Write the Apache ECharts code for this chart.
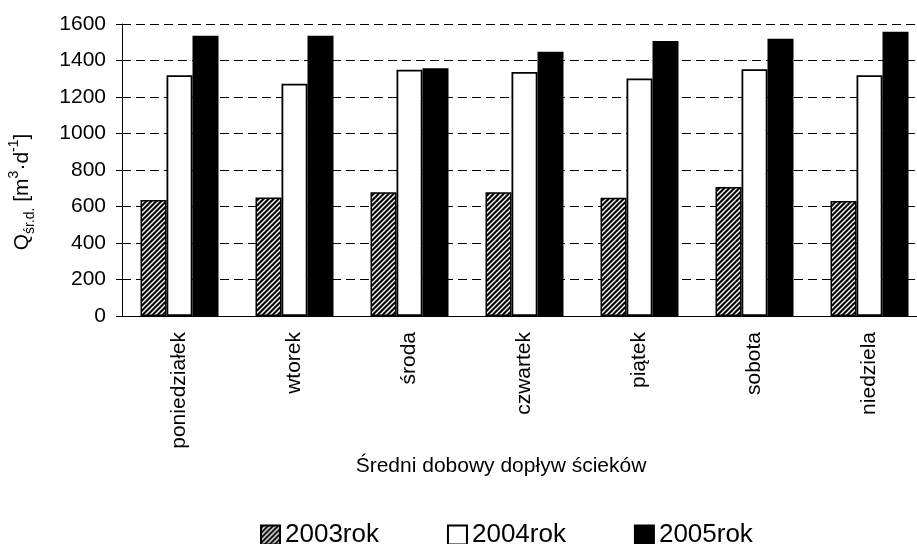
<!DOCTYPE html>
<html>
<head>
<meta charset="utf-8">
<script src="https://cdn.jsdelivr.net/npm/echarts@6/dist/echarts.min.js"></script>
<style>
html,body{margin:0;padding:0;background:#fff;}
#chart{width:917px;height:544px;}
</style>
</head>
<body>
<div id="chart"></div>
<script>
const categories = ['poniedziałek', 'wtorek', 'środa', 'czwartek', 'piątek', 'sobota', 'niedziela'];
const seriesNames = ['2003rok', '2004rok', '2005rok'];
const values2003 = [635, 650, 678, 678, 648, 707, 630];
const values2004 = [1319, 1273, 1350, 1337, 1302, 1352, 1319];
const values2005 = [1536, 1536, 1357, 1448, 1507, 1519, 1558];
const yTicks = [0, 200, 400, 600, 800, 1000, 1200, 1400, 1600];

function hatch() {
  const c = document.createElement('canvas');
  c.width = 5; c.height = 5;
  const g = c.getContext('2d');
  g.fillStyle = '#000';
  g.fillRect(0, 0, 5, 5);
  g.strokeStyle = '#fff';
  g.lineWidth = 1.4;
  g.beginPath();
  g.moveTo(-1, 6); g.lineTo(6, -1);
  g.moveTo(-1, 1); g.lineTo(1, -1);
  g.moveTo(4, 6); g.lineTo(6, 4);
  g.stroke();
  return c;
}

const FONT = '"Liberation Sans", Arial, sans-serif';
const chart = echarts.init(document.getElementById('chart'), null, {renderer: 'canvas'});
const barBase = {type: 'bar', barWidth: 26, barGap: '0%', animation: false};
chart.setOption({
  animation: false,
  textStyle: {fontFamily: FONT, color: '#000'},
  grid: {left: 122, top: 24, width: 805, height: 292, containLabel: false, outerBoundsMode: 'none'},
  xAxis: {
    type: 'category',
    data: categories,
    axisLine: {lineStyle: {color: '#000', width: 1}},
    axisTick: {length: 6, lineStyle: {color: '#000'}},
    axisLabel: {rotate: 90, fontSize: 21, color: '#000', fontFamily: FONT, margin: 16}
  },
  yAxis: {
    type: 'value',
    min: yTicks[0],
    max: yTicks[yTicks.length - 1],
    interval: yTicks[1] - yTicks[0],
    axisLine: {show: true, lineStyle: {color: '#000', width: 1}},
    axisTick: {show: true, length: 6, lineStyle: {color: '#000'}},
    axisLabel: {fontSize: 21, color: '#000', fontFamily: FONT, margin: 16, formatter: v => String(v)},
    splitLine: {show: true, lineStyle: {color: '#000', width: 1, type: [9, 5]}}
  },
  legend: {
    left: 255, top: 517,
    itemWidth: 19, itemHeight: 19, itemGap: 68,
    icon: 'rect',
    textStyle: {fontSize: 26, color: '#000', fontFamily: FONT},
    data: seriesNames
  },
  graphic: [
    {
      type: 'text', x: 22, y: 192, rotation: Math.PI / 2,
      style: {
        text: '{q|Q}{sub|śr.d.}{n| [m}{sup|3}{n|·d}{sup|-1}{n|]}',
        align: 'center', verticalAlign: 'middle', fill: '#000',
        font: '21px ' + FONT,
        rich: {
          q: {fontSize: 21, fontFamily: FONT, lineHeight: 30, verticalAlign: 'middle'},
          n: {fontSize: 21, fontFamily: FONT, lineHeight: 30, verticalAlign: 'middle'},
          sub: {fontSize: 14, fontFamily: FONT, lineHeight: 30, verticalAlign: 'bottom'},
          sup: {fontSize: 14, fontFamily: FONT, lineHeight: 30, verticalAlign: 'top'}
        }
      }
    },
    {
      type: 'text', x: 501, y: 466,
      style: {text: 'Średni dobowy dopływ ścieków', font: '21px ' + FONT, fill: '#000', align: 'center', verticalAlign: 'middle'}
    }
  ],
  series: [
    Object.assign({}, barBase, {name: seriesNames[0], data: values2003,
      itemStyle: {color: {image: hatch(), repeat: 'repeat'}, borderColor: '#000', borderWidth: 1.5}}),
    Object.assign({}, barBase, {name: seriesNames[1], data: values2004,
      itemStyle: {color: '#fff', borderColor: '#000', borderWidth: 1.8}}),
    Object.assign({}, barBase, {name: seriesNames[2], data: values2005,
      itemStyle: {color: '#000', borderColor: '#000', borderWidth: 1.5}})
  ]
});
</script>
</body>
</html>
